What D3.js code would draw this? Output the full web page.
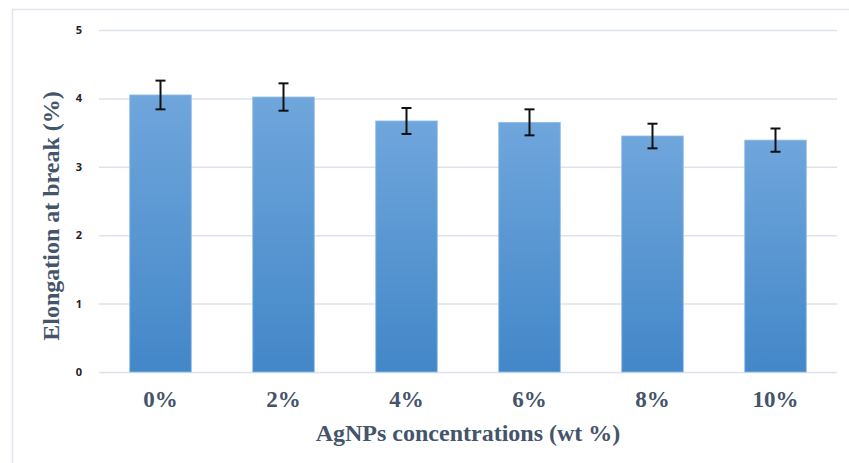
<!DOCTYPE html>
<html>
<head>
  <meta charset="utf-8">
  <title>Elongation at break</title>
  <style>
    body {
      margin: 0;
      padding: 0;
      background: white;
    }
    .grid line {
      stroke: #dde3ec;
      stroke-width: 1.5;
    }
    .ytick text {
      font: bold 11px "Open Sans", sans-serif;
      fill: #222;
    }
    .xtick text {
      font: bold 23px "Liberation Serif", serif;
      fill: #44546a;
    }
    .title {
      font: bold 24px "Liberation Serif", serif;
      fill: #44546a;
    }
    .err {
      stroke: #111;
      stroke-width: 2;
    }
  </style>
</head>
<body>
  <div id="chart"></div>

  <script src="https://d3js.org/d3.v7.min.js"></script>
  <script>

  // data
  var categories = ["0%", "2%", "4%", "6%", "8%", "10%"]
  var elongation = [4.05, 4.02, 3.67, 3.65, 3.45, 3.39]
  var errors = [0.21, 0.2, 0.19, 0.19, 0.18, 0.17]
  var yTicks = [0, 1, 2, 3, 4, 5]

  var width = 849,
      height = 463

  var svg = d3.select("#chart")
      .append("svg")
      .attr("width", width)
      .attr("height", height)

  // outer frame (only top and left edge show in the picture)
  svg.append("rect")
      .attr("x", 12.5)
      .attr("y", 9.5)
      .attr("width", 860)
      .attr("height", 480)
      .attr("fill", "none")
      .attr("stroke", "#dfe5ee")
      .attr("stroke-width", 1.5)

  // plot area edges
  var plotL = 99, plotR = 837, plotT = 30, plotB = 372

  var x = d3.scaleBand()
      .domain(categories)
      .range([plotL, plotR])
      .paddingInner(0.5)
      .paddingOuter(0.25)

  var y = d3.scaleLinear()
      .domain([0, 5])
      .range([plotB, plotT])

  // gradient for the bars
  var grad = svg.append("defs").append("linearGradient")
      .attr("id", "barGrad")
      .attr("x1", 0).attr("y1", 0)
      .attr("x2", 0).attr("y2", 1)
  grad.append("stop").attr("offset", "0%").attr("stop-color", "#6fa6dc")
  grad.append("stop").attr("offset", "100%").attr("stop-color", "#4387c8")

  // gridlines
  var grid = svg.append("g").attr("class", "grid")
      .attr("transform", "translate(" + plotL + ",0)")
      .call(d3.axisLeft(y).tickValues(yTicks).tickSize(-(plotR - plotL)).tickFormat(""))
  grid.select(".domain").remove()

  // y tick labels
  var yax = svg.append("g").attr("class", "ytick")
      .attr("transform", "translate(84,0)")
      .call(d3.axisLeft(y).tickValues(yTicks).tickSize(0).tickPadding(0).tickFormat(d3.format("d")))
  yax.select(".domain").remove()
  yax.selectAll("text").attr("text-anchor", "middle").attr("x", -5)

  // bars
  svg.append("g")
      .selectAll("rect")
      .data(elongation)
      .enter().append("rect")
      .attr("x", function (d, i) { return x(categories[i]) })
      .attr("y", function (d) { return y(d) })
      .attr("width", x.bandwidth())
      .attr("height", function (d) { return y(0) - y(d) })
      .attr("fill", "url(#barGrad)")
      .attr("stroke", "#8dbbe6")
      .attr("stroke-width", 0.8)

  // error bars
  var eb = svg.append("g")
      .selectAll("g")
      .data(elongation)
      .enter().append("g")
      .attr("class", "err")
  eb.append("line")
      .attr("x1", function (d, i) { return x(categories[i]) + x.bandwidth() / 2 })
      .attr("x2", function (d, i) { return x(categories[i]) + x.bandwidth() / 2 })
      .attr("y1", function (d, i) { return y(d + errors[i]) })
      .attr("y2", function (d, i) { return y(d - errors[i]) })
  eb.append("line")
      .attr("x1", function (d, i) { return x(categories[i]) + x.bandwidth() / 2 - 5 })
      .attr("x2", function (d, i) { return x(categories[i]) + x.bandwidth() / 2 + 5 })
      .attr("y1", function (d, i) { return y(d + errors[i]) })
      .attr("y2", function (d, i) { return y(d + errors[i]) })
  eb.append("line")
      .attr("x1", function (d, i) { return x(categories[i]) + x.bandwidth() / 2 - 5 })
      .attr("x2", function (d, i) { return x(categories[i]) + x.bandwidth() / 2 + 5 })
      .attr("y1", function (d, i) { return y(d - errors[i]) })
      .attr("y2", function (d, i) { return y(d - errors[i]) })

  // x tick labels
  var xax = svg.append("g").attr("class", "xtick")
      .attr("transform", "translate(0," + plotB + ")")
      .call(d3.axisBottom(x).tickSize(0).tickPadding(19))
  xax.select(".domain").remove()

  // axis titles
  svg.append("text")
      .attr("class", "title")
      .attr("x", (plotL + plotR) / 2)
      .attr("y", 441)
      .attr("text-anchor", "middle")
      .text("AgNPs concentrations (wt %)")

  svg.append("text")
      .attr("class", "title")
      .attr("transform", "translate(59,216) rotate(-90)")
      .attr("text-anchor", "middle")
      .text("Elongation at break (%)")

  </script>
</body>
</html>
